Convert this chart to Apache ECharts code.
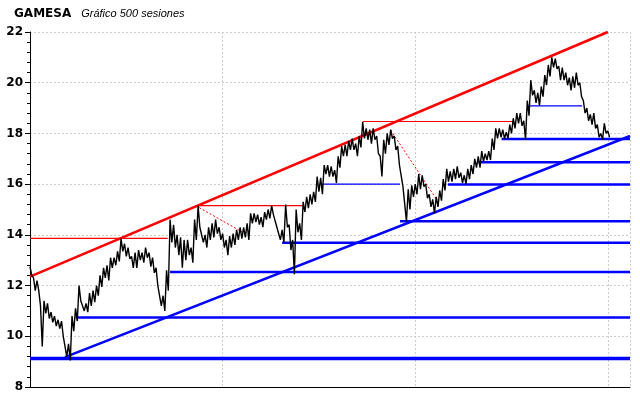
<!DOCTYPE html>
<html>
<head>
<meta charset="utf-8">
<script src="https://cdn.jsdelivr.net/npm/echarts@6/dist/echarts.min.js"></script>
<style>
html, body { margin: 0; padding: 0; background: #fff; }
#chart { width: 640px; height: 398px; }
</style>
</head>
<body>
<div id="chart"></div>
<script>
// one sample every 3 sessions, high / low
var step = 3;
var highs = [
	12.75, 12.3, 12.2, 11.2, 11.4, 11.3, 10.95, 10.8, 10.65, 10.6,
	10.0, 9.7, 10.8, 11.1, 12.0, 11.4, 11.3, 11.7, 11.8, 12.0,
	12.4, 12.7, 12.8, 13.1, 13.1, 13.35, 13.85, 13.65, 13.5, 13.15,
	13.3, 13.4, 13.3, 13.5, 13.3, 13.1, 12.7, 12.0, 11.6, 12.6,
	14.6, 14.4, 14.0, 13.9, 13.8, 13.8, 13.5, 14.6, 15.15, 14.3,
	14.0, 14.3, 14.45, 14.6, 14.3, 14.05, 13.8, 13.95, 14.05, 14.2,
	14.3, 14.3, 14.45, 14.85, 14.85, 14.8, 14.7, 14.9, 15.0, 15.15,
	14.8, 14.3, 14.2, 15.2, 14.4, 13.8, 15.0, 14.45, 15.3, 15.5,
	15.6, 15.7, 16.3, 16.25, 16.75, 16.75, 16.7, 16.55, 17.1, 17.5,
	17.55, 17.7, 17.8, 17.6, 17.9, 18.45, 18.2, 18.15, 18.2, 17.9,
	17.1, 17.75, 18.0, 18.15, 17.9, 17.5, 16.7, 15.9, 15.8, 15.95,
	16.0, 16.4, 16.35, 16.0, 15.6, 15.4, 15.5, 15.75,
	16.2, 16.6, 16.5, 16.6, 16.7, 16.45, 16.35, 16.6, 16.75, 17.0,
	17.1, 17.3, 17.2, 17.3, 17.8, 18.2, 18.2, 18.15, 18.05, 18.35,
	18.6, 18.8, 18.8, 18.5, 19.3, 20.1, 19.7, 19.6, 19.85, 20.3,
	20.7, 21.0, 20.95, 20.65, 20.6, 20.4, 20.2, 20.25, 20.4, 20.0,
	19.3, 19.0, 18.75, 18.8, 18.35, 18.0, 18.4, 18.1
];
var lows = [
	12.4, 11.8, 11.8, 9.6, 10.9, 10.7, 10.55, 10.4, 10.3, 10.0,
	9.2, 9.05, 10.2, 10.6, 11.4, 11.0, 10.95, 11.2, 11.35, 11.6,
	11.95, 12.3, 12.2, 12.7, 12.8, 12.95, 13.35, 13.15, 13.05, 12.7,
	12.7, 13.0, 12.9, 13.1, 12.75, 12.5, 12.0, 11.2, 11.0, 11.8,
	13.7, 13.5, 13.2, 12.7, 13.0, 13.2, 12.9, 13.8, 14.3, 13.7,
	13.5, 13.8, 13.9, 14.05, 13.8, 13.5, 13.2, 13.5, 13.6, 13.8,
	13.85, 13.9, 13.8, 14.45, 14.5, 14.4, 14.3, 14.6, 14.65, 14.8,
	14.3, 13.8, 13.7, 14.3, 13.4, 12.45, 14.1, 13.8, 14.9, 15.05,
	15.2, 15.3, 15.7, 15.6, 16.4, 16.3, 16.3, 16.05, 16.65, 17.1,
	17.1, 17.35, 17.35, 17.1, 17.45, 17.8, 17.75, 17.6, 17.75, 17.2,
	16.3, 17.2, 17.55, 17.8, 17.35, 16.75, 15.9, 14.52, 15.0, 15.5,
	15.6, 15.8, 15.9, 15.45, 15.1, 14.85, 15.1, 15.35,
	15.75, 16.1, 16.1, 16.2, 16.25, 16.05, 16.0, 16.2, 16.4, 16.65,
	16.65, 16.9, 16.95, 16.95, 17.35, 17.8, 17.85, 17.8, 17.8, 18.0,
	18.2, 18.4, 18.3, 17.75, 18.7, 19.5, 19.2, 19.1, 19.45, 19.9,
	20.25, 20.6, 20.55, 20.1, 20.1, 19.9, 19.7, 19.8, 19.9, 19.45,
	18.8, 18.5, 18.35, 18.2, 17.85, 17.75, 18.0, 17.85
];

var yTicks = [8, 10, 12, 14, 16, 18, 20, 22];
var lastSession = 514;

// horizontal supports (blue, to the right edge)
var baseLevel = 9.12;
var supportLevels = [10.74, 12.54, 13.69, 14.54, 15.99, 16.86, 17.78];
var supportFrom = [39, 120, 216, 317, 358, 384, 404];
// short blue segments
var shortLevels = [16.0, 19.09];
var shortFrom = [250, 426];
var shortTo = [317, 473];
// red resistances
var resistLevels = [13.86, 15.15, 18.47];
var resistFrom = [0, 142, 285];
var resistTo = [118, 233, 414];
// red dashed pullbacks [session, price]
var pullbacks = [
	[[142, 15.15], [181.5, 14.12]],
	[[309, 18.13], [348.7, 15.37]]
];
// channel lines [session, price]
var redTrend = [[0, 12.35], [495, 22]];
var blueTrend = [[30, 9.18], [514, 17.9]];

var priceData = [];
highs.forEach(function(h, i) {
	priceData.push([i * step, h]);
	priceData.push([i * step + step / 2, lows[i]]);
});

function seg(data, color, width, type, z) {
	return {
		type: 'line',
		data: data,
		symbol: 'none',
		silent: true,
		z: z || 2,
		lineStyle: { color: color, width: width, type: type || 'solid' }
	};
}

var series = [];
series.push(seg([[0, baseLevel], [lastSession, baseLevel]], '#0000ff', 3.5));
supportLevels.forEach(function(v, i) {
	series.push(seg([[supportFrom[i], v], [lastSession, v]], '#0000ff', 2.5));
});
shortLevels.forEach(function(v, i) {
	series.push(seg([[shortFrom[i], v], [shortTo[i], v]], '#0000ff', 1.2));
});
resistLevels.forEach(function(v, i) {
	series.push(seg([[resistFrom[i], v], [resistTo[i], v]], '#ff0000', 1.2));
});
pullbacks.forEach(function(p) {
	series.push(seg(p, '#ff0000', 1, [2, 2]));
});
series.push(seg(redTrend, '#ff0000', 2.5, 'solid', 3));
series.push(seg(blueTrend, '#0000ff', 2.5, 'solid', 3));
series.push({
	type: 'line',
	data: priceData,
	symbol: 'none',
	silent: true,
	z: 5,
	lineStyle: { color: '#000000', width: 1.4 }
});

var chart = echarts.init(document.getElementById('chart'));
chart.setOption({
	animation: false,
	backgroundColor: '#ffffff',
	title: {
		text: '{a|GAMESA}  {b|Gráfico 500 sesiones}',
		left: 9,
		top: 0,
		textStyle: {
			rich: {
				a: {
					color: '#000',
					fontSize: 12,
					fontWeight: 'bold',
					fontFamily: 'DejaVu Sans'
				},
				b: {
					color: '#000',
					fontSize: 11,
					fontWeight: 'normal',
					fontStyle: 'italic',
					fontFamily: 'Liberation Sans'
				}
			}
		}
	},
	grid: {
		left: 30,
		right: 10,
		top: 32,
		bottom: 11
	},
	xAxis: {
		type: 'value',
		min: 0,
		max: lastSession,
		interval: 165,
		axisLine: { show: true, lineStyle: { color: '#000', width: 1 } },
		axisTick: { show: false },
		axisLabel: { show: false },
		splitLine: {
			show: true,
			lineStyle: { color: '#cccccc', type: [2, 2] }
		}
	},
	yAxis: {
		type: 'value',
		min: yTicks[0],
		max: yTicks[yTicks.length - 1],
		interval: 2,
		axisLine: { show: true, lineStyle: { color: '#000', width: 1 } },
		axisTick: { show: true, length: 5, lineStyle: { color: '#000' } },
		minorTick: { show: true, splitNumber: 5, length: 3, lineStyle: { color: '#000' } },
		axisLabel: {
			color: '#000',
			fontSize: 12,
			fontWeight: 'bold',
			fontFamily: 'DejaVu Sans',
			margin: 7
		},
		splitLine: {
			show: true,
			lineStyle: { color: '#cccccc', type: [2, 2] }
		}
	},
	series: series
});
</script>
</body>
</html>
